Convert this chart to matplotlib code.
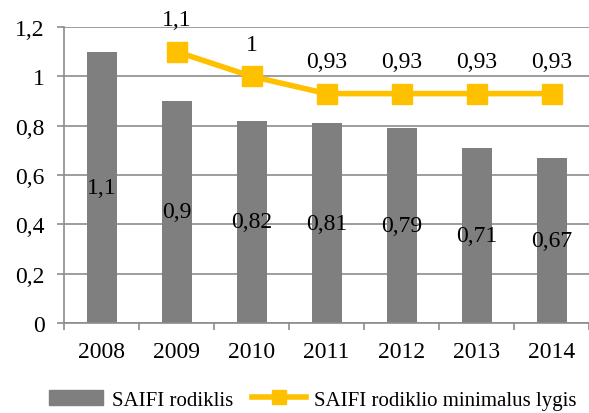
import matplotlib
matplotlib.use("Agg")
import matplotlib.pyplot as plt
from matplotlib.lines import Line2D
from matplotlib.patches import Patch

years = ["2008", "2009", "2010", "2011", "2012", "2013", "2014"]
saifi = [1.1, 0.9, 0.82, 0.81, 0.79, 0.71, 0.67]
min_years = ["2009", "2010", "2011", "2012", "2013", "2014"]
saifi_min = [1.1, 1.0, 0.93, 0.93, 0.93, 0.93]
yticks = [0, 0.2, 0.4, 0.6, 0.8, 1.0, 1.2]

def fmt(v):
    s = ("%g" % v)
    return s.replace(".", ",")

plt.rcParams['font.family'] = ['Liberation Serif', 'DejaVu Serif']

fig = plt.figure(figsize=(5.89, 4.14), dpi=100)
ax = fig.add_axes([64/589, 1-324/414, 1-64/589, (324-28)/414])

x = list(range(len(years)))
bar_color = "#7f7f7f"
line_color = "#FFC000"
grid_color = "#8c8c8c"
fs = 17

ax.bar(x, saifi, width=0.4, color=bar_color, zorder=2)
for xi, v in zip(x, saifi):
    ax.text(xi, v/2, fmt(v), ha="center", va="center", fontsize=fs, zorder=4)

mx = [years.index(y) for y in min_years]
ax.plot(mx, saifi_min, color=line_color, lw=4, marker="s", markersize=14, zorder=3)
for xi, v in zip(mx, saifi_min):
    ax.annotate(fmt(v), (xi, v), xytext=(0, 23), textcoords="offset points",
                ha="center", va="center", fontsize=fs)

ax.set_ylim(0, 1.2)
ax.set_xlim(-0.5, len(years)-0.5)
ax.set_yticks(yticks)
ax.set_yticklabels([fmt(t) for t in yticks], fontsize=fs)
ax.yaxis.grid(True, color=grid_color, lw=1.2, zorder=0)
ax.set_axisbelow(True)

ax.set_xticks(x)
ax.set_xticklabels(years, fontsize=fs)
ax.tick_params(axis="x", length=0, pad=13)
ax.set_xticks([i - 0.5 for i in range(len(years)+1)], minor=True)
ax.tick_params(axis="x", which="minor", length=5, color=grid_color, width=1.2)
ax.tick_params(axis="y", length=5, color=grid_color, width=1.2, pad=9)

for s in ["top", "right"]:
    ax.spines[s].set_visible(False)
ax.spines["left"].set_color(grid_color)
ax.spines["left"].set_linewidth(1.2)
ax.spines["bottom"].set_color(grid_color)
ax.spines["bottom"].set_linewidth(1.2)

handles = [Patch(color=bar_color, label="SAIFI rodiklis"),
           Line2D([0], [0], color=line_color, lw=4, marker="s", markersize=10,
                  label="SAIFI rodiklio minimalus lygis")]
fig.legend(handles=handles, loc="center", bbox_to_anchor=(313/589, 1-401/414),
           ncol=2, frameon=False, fontsize=15, handlelength=2.6,
           columnspacing=0.9, handletextpad=0.4)

fig.savefig("out.png", dpi=100)
